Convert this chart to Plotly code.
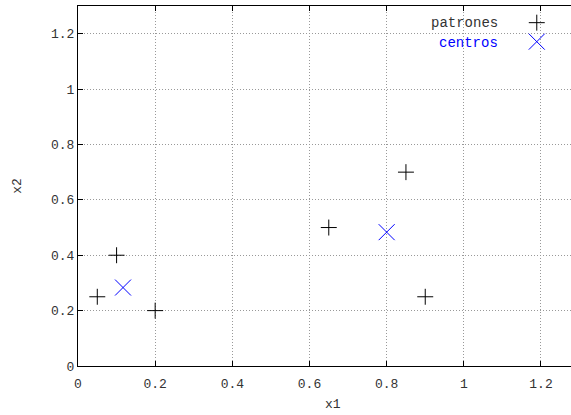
import plotly.graph_objects as go

patrones_x1 = [0.05, 0.10, 0.20, 0.65, 0.85, 0.90]
patrones_x2 = [0.25, 0.40, 0.20, 0.50, 0.70, 0.25]
centros_x1 = [0.1167, 0.80]
centros_x2 = [0.2833, 0.4833]
xticks = [0, 0.2, 0.4, 0.6, 0.8, 1, 1.2]
yticks = [0, 0.2, 0.4, 0.6, 0.8, 1, 1.2]

FONT = "Liberation Mono"

fig = go.Figure()
fig.add_trace(go.Scatter(
    x=patrones_x1, y=patrones_x2, mode="markers", name=" ",
    marker=dict(symbol="cross-thin", size=11.4, color="black",
                line=dict(color="black", width=1)),
))
fig.add_trace(go.Scatter(
    x=centros_x1, y=centros_x2, mode="markers", name=" ",
    marker=dict(symbol="x-thin", size=16, color="blue",
                line=dict(color="blue", width=1)),
))

axis_common = dict(
    showline=True, linecolor="black", linewidth=1,
    ticks="inside", ticklen=5, tickcolor="black",
    showgrid=True, gridcolor="#999999", griddash="1px,2px", gridwidth=1,
    zeroline=False, automargin=False,
    tickfont=dict(family=FONT, size=13, color="#333333"),
    title_font=dict(family=FONT, size=13, color="#333333"),
)

fig.update_xaxes(range=[0, 1.2778], tickvals=xticks,
                 ticktext=["0", "0.2", "0.4", "0.6", "0.8", "1", "1.2"],
                 mirror="ticks", ticklabelstandoff=5,
                 **axis_common)
fig.update_yaxes(range=[0, 1.3], tickvals=yticks,
                 ticktext=["0", "0.2", "0.4", "0.6", "0.8", "1", "1.2"],
                 mirror=False, title_text="x2", title_standoff=26,
                 **axis_common)

fig.add_annotation(text="x1", xref="paper", yref="paper",
                   x=0.517, y=-0.108, xanchor="center", yanchor="middle",
                   showarrow=False, font=dict(family=FONT, size=13, color="#333333"))
fig.add_annotation(text="patrones", xref="paper", yref="paper",
                   x=0.856, y=0.953, xanchor="right", yanchor="middle",
                   showarrow=False, font=dict(family=FONT, size=14, color="#333333"))
fig.add_annotation(text="centros", xref="paper", yref="paper",
                   x=0.856, y=0.897, xanchor="right", yanchor="middle",
                   showarrow=False, font=dict(family=FONT, size=14, color="blue"))

fig.update_layout(
    width=571, height=415,
    margin=dict(l=78, r=0, t=6, b=49, autoexpand=False),
    plot_bgcolor="white", paper_bgcolor="white",
    showlegend=True,
    legend=dict(x=0.89, y=0.994, xanchor="left", yanchor="top",
                bgcolor="rgba(0,0,0,0)", font=dict(family=FONT, size=11),
                itemsizing="trace", tracegroupgap=0),
)

fig.write_html("out.html", config={"displayModeBar": False},
               post_script="document.body.style.margin='0';document.body.style.overflow='hidden';")
